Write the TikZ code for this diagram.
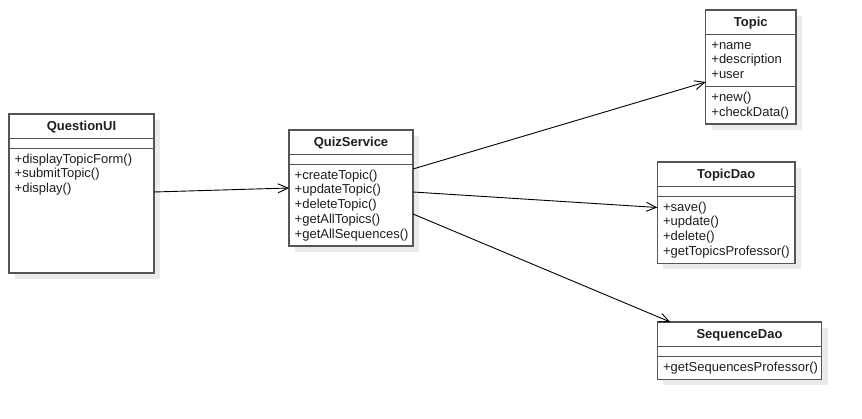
\documentclass[tikz,border=0pt]{standalone}
\usepackage{fontspec}
\setmainfont{Liberation Sans}
\usetikzlibrary{arrows.meta,calc}
\definecolor{boxline}{HTML}{555555}
\definecolor{shade}{HTML}{EBEBEB}
\definecolor{txt}{HTML}{1E1E1E}
\begin{document}
\begin{tikzpicture}[x=1pt,y=-1pt,
  cls/.style={draw=boxline, line width=1.3pt, fill=white, inner sep=0pt, outer sep=0pt, anchor=north west},
  sh/.style={fill=shade},
  div/.style={draw=boxline, line width=1.3pt},
  title/.style={font=\fontsize{13}{15}\selectfont\bfseries, text=txt, anchor=base, inner sep=0pt},
  mem/.style={font=\fontsize{13}{15}\selectfont, text=txt, anchor=base west, inner sep=0pt},
  dep/.style={draw=black, line width=0.9pt, -{Straight Barb[length=10pt,width=9pt]}}]
\useasboundingbox (0,0) rectangle (862,419);
% ---------- shadows ----------
\fill[sh] (15,120) rectangle (160,279);
\fill[sh] (295,136) rectangle (419,252);
\fill[sh] (711.7,16) rectangle (802,130);
\fill[sh] (663.3,168) rectangle (801,269.3);
\fill[sh] (663.3,328) rectangle (827.7,385.2);
% ---------- QuestionUI ----------
\node[cls, minimum width=145pt, minimum height=159pt] (ui) at (9,114) {};
\draw[div] (9,138.5) -- (154,138.5);
\draw[div] (9,148.5) -- (154,148.5);
\node[title] (uiT) at (81.5,131) {QuestionUI};
\node[mem] (ui1) at (14.5,163.3) {+displayTopicForm()};
\node[mem] (ui2) at (14.5,178) {+submitTopic()};
\node[mem] (ui3) at (14.5,192.7) {+display()};
% ---------- QuizService ----------
\node[cls, minimum width=124pt, minimum height=116pt] (quiz) at (289,130) {};
\draw[div] (289,154.5) -- (413,154.5);
\draw[div] (289,164.5) -- (413,164.5);
\node[title] (quizT) at (351,147) {QuizService};
\node[mem] (q1) at (294.5,179.3) {+createTopic()};
\node[mem] (q2) at (294.5,194) {+updateTopic()};
\node[mem] (q3) at (294.5,208.7) {+deleteTopic()};
\node[mem] (q4) at (294.5,223.4) {+getAllTopics()};
\node[mem] (q5) at (294.5,238.1) {+getAllSequences()};
% ---------- Topic ----------
\node[cls, minimum width=90.3pt, minimum height=114pt] (topic) at (705.7,10) {};
\draw[div] (705.7,34.5) -- (796,34.5);
\draw[div] (705.7,86.6) -- (796,86.6);
\node[title] (topicT) at (750.8,27) {Topic};
\node[mem] (t1) at (711.2,49.3) {+name};
\node[mem] (t2) at (711.2,64) {+description};
\node[mem] (t3) at (711.2,78.7) {+user};
\node[mem] (t4) at (711.2,101.4) {+new()};
\node[mem] (t5) at (711.2,116.1) {+checkData()};
% ---------- TopicDao ----------
\node[cls, minimum width=137.7pt, minimum height=101.3pt] (tdao) at (657.3,162) {};
\draw[div] (657.3,186.5) -- (795,186.5);
\draw[div] (657.3,196.5) -- (795,196.5);
\node[title] (tdaoT) at (726.2,179) {TopicDao};
\node[mem] (d1) at (662.8,211.3) {+save()};
\node[mem] (d2) at (662.8,226) {+update()};
\node[mem] (d3) at (662.8,240.7) {+delete()};
\node[mem] (d4) at (662.8,255.4) {+getTopicsProfessor()};
% ---------- SequenceDao ----------
\node[cls, minimum width=164.4pt, minimum height=57.2pt] (sdao) at (657.3,322) {};
\draw[div] (657.3,346.5) -- (821.7,346.5);
\draw[div] (657.3,356.5) -- (821.7,356.5);
\node[title] (sdaoT) at (739.5,339) {SequenceDao};
\node[mem] (s1) at (662.8,371.3) {+getSequencesProfessor()};
% ---------- dependencies ----------
\draw[dep] ($(ui.north east)+(0,78)$) -- ($(quiz.north west)+(0,58)$);
\draw[dep] ($(quiz.north east)+(0,39)$) -- ($(topic.north west)+(0,72)$);
\draw[dep] ($(quiz.north east)+(0,62)$) -- ($(tdao.north west)+(0,45.5)$);
\draw[dep] ($(quiz.north east)+(0,84)$) -- ($(sdao.north west)+(13,0)$);
\end{tikzpicture}
\end{document}
